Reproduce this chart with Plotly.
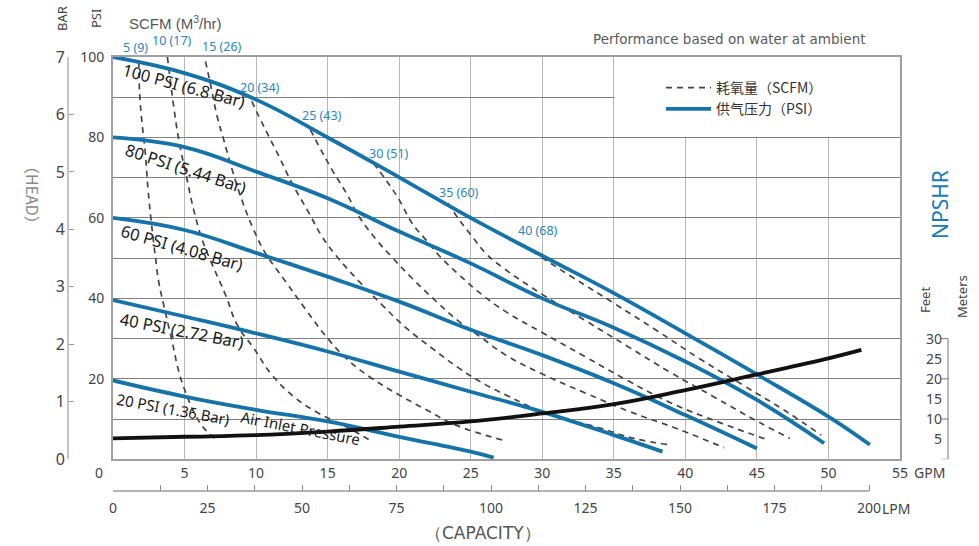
import plotly.graph_objects as go

# ---------------- data ----------------
# Air consumption curves (SCFM / m3/hr): capacity in GPM, discharge head in PSI
scfm_values = [5, 10, 15, 20, 25, 30, 35, 40]
m3hr_values = [9, 17, 26, 34, 43, 51, 60, 68]

scfm5_gpm = [1.8, 1.86, 2.03, 2.26, 2.45, 2.66, 2.96, 3.19, 3.54, 4.13, 4.6, 5.06, 5.76, 6.46, 7.28]
scfm5_psi = [99, 91, 83.6, 76.1, 67, 59.5, 50.4, 44.2, 38.4, 29.3, 21.8, 16.8, 11, 7.3, 4.8]

scfm10_gpm = [3.8, 4.0, 4.24, 4.6, 5.18, 5.64, 6.23, 6.8, 7.86, 8.68, 9.84, 11.1, 12.76, 14.4, 16.5, 18.1]
scfm10_psi = [100, 94.4, 87.7, 79.4, 69.5, 62, 54.6, 49.5, 40.9, 33.4, 27.6, 21, 15.2, 11.4, 7.7, 4.4]

scfm15_gpm = [6.46, 6.8, 7.28, 7.74, 8.33, 9.0, 9.84, 10.66, 12.06, 13.5, 14.9, 16.3, 18.1, 20, 21.9, 23.95, 27.2]
scfm15_psi = [98.9, 93.5, 85.2, 79.4, 72, 64.5, 57, 51.2, 44.2, 37.1, 30.5, 25.1, 20.1, 16, 12.3, 8.5, 4.8]

scfm20_gpm = [9.7, 10.2, 10.9, 11.6, 12.5, 13.7, 14.6, 15.6, 17.2, 18.8, 20.5, 22.3, 24.2, 26.05, 27.45, 30.1, 34.1, 36.4, 38.9]
scfm20_psi = [89, 85.2, 80.2, 75.3, 68.7, 61.2, 55.4, 50.6, 44.2, 38.4, 32.6, 27.6, 22.6, 18.5, 16, 11.7, 7.7, 5.2, 3.6]

scfm25_gpm = [13.8, 14.4, 15.3, 16.3, 17.2, 18.4, 19.4, 20.9, 22.6, 24.2, 25.8, 27.45, 30, 33, 36, 39.5, 42.7]
scfm25_psi = [81.9, 77.8, 72, 66.2, 60.3, 54.6, 50.6, 45, 39.2, 34.2, 30.1, 25.9, 21.2, 16.5, 12, 7.5, 2.9]

scfm30_gpm = [18.2, 19.06, 20, 20.9, 21.85, 22.8, 24.2, 25.8, 27.45, 30, 33, 36, 39, 42.5, 45.8]
scfm30_psi = [73.6, 69.5, 64.5, 58.7, 54.6, 50.6, 45.8, 40.9, 36.7, 31.5, 25.5, 19.5, 14, 9, 4.8]

scfm35_gpm = [23.4, 24.2, 25.1, 26.05, 27.3, 30, 33, 36, 39, 42, 45, 47.3]
scfm35_psi = [63.7, 59.5, 55.4, 51.2, 47.5, 41, 34.5, 28, 21.5, 15.5, 9.5, 5.2]

scfm40_gpm = [28.7, 29.7, 32, 35, 38, 41, 44, 47, 49.5]
scfm40_psi = [53.3, 50.8, 45.5, 38.8, 32, 25, 18.5, 12, 6]

# Air inlet pressure curves: capacity in GPM, discharge head in PSI
inlet_psi = [100, 80, 60, 40, 20]
inlet_bar = ["6.8", "5.44", "4.08", "2.72", "1.36"]

p100_gpm = [0, 5, 10, 15, 20, 25, 30, 35, 40, 45, 50, 52.9]
p100_psi = [100, 96, 89.4, 80, 70.1, 60, 50.6, 41.3, 31.3, 21.1, 10.6, 3.6]

p80_gpm = [0, 5, 10, 15, 20, 25, 30, 35, 40, 45, 49.7]
p80_psi = [80, 77.6, 71.5, 64.9, 56.6, 48.7, 40, 32.7, 24.3, 14.75, 4.0]

p60_gpm = [0, 5, 10, 15, 20, 25, 30, 35, 40, 45]
p60_psi = [60, 57, 51.3, 45.4, 39.2, 32.2, 25.9, 18.9, 11, 2.7]

p40_gpm = [0, 5, 10, 15, 20, 25, 30, 35, 38.4]
p40_psi = [39.6, 35.5, 31.3, 26.8, 21.8, 16.8, 11.8, 6.0, 1.9]

p20_gpm = [0, 5, 10, 15, 20, 25, 26.6]
p20_psi = [19.6, 15.6, 12.3, 9.4, 5.6, 1.9, 0.4]

# NPSHR curve: capacity in GPM, required head in feet
npshr_gpm = [0, 5, 10, 15, 20, 25, 30, 35, 40, 45, 50, 52.3]
npshr_ft = [5.2, 5.6, 6.0, 6.9, 8.1, 9.4, 11.4, 13.7, 17.2, 21.1, 25.1, 27.2]

# Axis ticks
gpm_ticks = [0, 5, 10, 15, 20, 25, 30, 35, 40, 45, 50, 55]
psi_ticks = [0, 10, 20, 30, 40, 50, 60, 70, 80, 90, 100]
psi_labels = [20, 40, 60, 80, 100]
bar_ticks = [0, 1, 2, 3, 4, 5, 6, 7]
lpm_ticks = [0, 12.5, 25, 37.5, 50, 62.5, 75, 87.5, 100, 112.5, 125, 137.5, 150, 162.5, 175, 187.5, 200]
feet_ticks = [5, 10, 15, 20, 25, 30]
feet_marks = [0, 10, 20, 30]
meter_labels = ["1.5", "3", "4.5", "6", "7.6", "9.1"]

# ---------------- styling ----------------
BLUE = "#1673aa"
LABEL_BLUE = "#2a86c0"
DASH_GREY = "#454545"
TXT = "#444444"
FONT = "Noto Sans"
CJK = "Noto Sans CJK SC"

W, H = 979, 546
M_L, M_R, M_T, M_B = 40, 20, 57, 55
PW = W - M_L - M_R
PH = H - M_T - M_B


def px_x(X):
    return (X - M_L) / PW


def px_y(Y):
    return (H - M_B - Y) / PH


x_dom = [px_x(113), px_x(900)]
y_dom = [px_y(459.3), 1.0]
GPM_MAX = 55
PSI_MAX = 100
BAR_MAX = 7
FT_MAX = 100          # feet scale shares the head grid
LPM_PER_GPM = 3.78541
M_PER_FT = 0.3048
lpm_end = 200
SMOOTH = 1.2

fig = go.Figure()

scfm_series = [
    (scfm5_gpm, scfm5_psi), (scfm10_gpm, scfm10_psi), (scfm15_gpm, scfm15_psi),
    (scfm20_gpm, scfm20_psi), (scfm25_gpm, scfm25_psi), (scfm30_gpm, scfm30_psi),
    (scfm35_gpm, scfm35_psi), (scfm40_gpm, scfm40_psi),
]
for i, (g, p) in enumerate(scfm_series):
    fig.add_trace(go.Scatter(
        x=g, y=p, mode="lines", name="耗氧量（SCFM）", legendrank=1,
        showlegend=(i == 0), hoverinfo="skip",
        line=dict(color=DASH_GREY, width=1.7, dash="6px,5px", shape="spline", smoothing=SMOOTH),
    ))

psi_series = [(p100_gpm, p100_psi), (p80_gpm, p80_psi), (p60_gpm, p60_psi),
              (p40_gpm, p40_psi), (p20_gpm, p20_psi)]
for i, (g, p) in enumerate(psi_series):
    fig.add_trace(go.Scatter(
        x=g, y=p, mode="lines", name="供气压力（PSI）", legendrank=2,
        showlegend=(i == 0), hoverinfo="skip",
        line=dict(color=BLUE, width=3.8, shape="spline", smoothing=SMOOTH),
    ))

fig.add_trace(go.Scatter(
    x=npshr_gpm, y=npshr_ft, xaxis="x", yaxis="y3", mode="lines",
    showlegend=False, hoverinfo="skip",
    line=dict(color="#111111", width=3.8, shape="spline", smoothing=SMOOTH),
))

tick_font = dict(family=FONT, size=14, color=TXT)

fig.update_layout(
    width=W, height=H,
    margin=dict(l=M_L, r=M_R, t=M_T, b=M_B),
    paper_bgcolor="white", plot_bgcolor="white",
    font=dict(family=FONT, color=TXT),
    xaxis=dict(
        domain=x_dom, range=[0, GPM_MAX], anchor="y",
        tickmode="array", tickvals=gpm_ticks,
        ticktext=["" if v == 0 else str(v) for v in gpm_ticks],
        ticks="", tickfont=tick_font,
        showgrid=True, gridcolor="#b8b8b8", gridwidth=1.3,
        showline=True, linecolor="#a0a0a0", linewidth=2, mirror=True,
        zeroline=False, fixedrange=True,
    ),
    yaxis=dict(
        domain=y_dom, range=[0, PSI_MAX], anchor="x",
        tickmode="array", tickvals=psi_ticks,
        ticktext=[str(v) if v in psi_labels else "" for v in psi_ticks],
        ticks="", tickfont=tick_font, ticklabelstandoff=4,
        showgrid=True, gridcolor="#808080", gridwidth=1,
        showline=True, linecolor="#a0a0a0", linewidth=2, mirror=True,
        zeroline=False, fixedrange=True,
    ),
    yaxis2=dict(
        overlaying="y", anchor="free", position=px_x(68), side="left",
        range=[0, BAR_MAX], tickmode="array", tickvals=bar_ticks,
        ticks="inside", ticklen=5, tickcolor="#999999",
        tickfont=dict(family=FONT, size=16, color=TXT), ticklabelstandoff=3,
        showline=False, showgrid=False, zeroline=False, fixedrange=True,
    ),
    xaxis2=dict(
        overlaying="x", anchor="free", position=0, side="bottom",
        range=[0, GPM_MAX * LPM_PER_GPM],
        tickmode="array", tickvals=lpm_ticks,
        ticktext=[("%g" % v) if v % 25 == 0 else "" for v in lpm_ticks],
        ticks="inside", ticklen=6, tickcolor="#8a8a8a",
        tickfont=tick_font, ticklabelstandoff=7,
        showline=False, showgrid=False, zeroline=False, fixedrange=True,
    ),
    yaxis3=dict(
        overlaying="y", anchor="free", position=px_x(948), side="left",
        range=[0, FT_MAX], tickmode="array", tickvals=feet_ticks, ticks="",
        tickfont=tick_font, ticklabelstandoff=6,
        showline=False, showgrid=False, zeroline=False, fixedrange=True,
    ),
    yaxis4=dict(
        overlaying="y", anchor="free", position=px_x(948), side="right",
        range=[0, FT_MAX * M_PER_FT], tickmode="array",
        tickvals=[float(v) for v in meter_labels], ticktext=meter_labels,
        ticks="", tickfont=tick_font, ticklabelstandoff=4,
        showline=False, showgrid=False, zeroline=False, fixedrange=True,
    ),
    legend=dict(
        x=px_x(661), y=px_y(72), xanchor="left", yanchor="top",
        bgcolor="rgba(0,0,0,0)", borderwidth=0, tracegroupgap=0,
        itemwidth=45,
        font=dict(family=CJK, size=14, color="#333333"),
    ),
)

shapes = [
    # white panel holding the legend, masking the grid behind it
    dict(type="rect", xref="x", yref="y", x0=35.06, x1=GPM_MAX, y0=80.15, y1=PSI_MAX,
         fillcolor="white", line=dict(width=0), layer="between"),
    # LPM scale baseline
    dict(type="line", xref="x2", yref="paper", x0=0, x1=lpm_end, y0=0, y1=0,
         line=dict(color="#9a9a9a", width=1.5)),
    # BAR scale line
    dict(type="line", xref="paper", yref="y2", x0=px_x(68), x1=px_x(68), y0=0, y1=BAR_MAX,
         line=dict(color="#b0b0b0", width=1.5)),
    # feet / meters bracket
    dict(type="line", xref="paper", yref="y3", x0=px_x(948), x1=px_x(948),
         y0=feet_marks[0], y1=feet_marks[-1], line=dict(color="#777777", width=1)),
]
for v in feet_marks:
    shapes.append(dict(type="line", xref="paper", yref="y3", x0=px_x(941), x1=px_x(948),
                       y0=v, y1=v, line=dict(color="#777777", width=1)))
fig.update_layout(shapes=shapes)

ann = []


def note(**kw):
    kw.setdefault("showarrow", False)
    kw.setdefault("xanchor", "center")
    kw.setdefault("yanchor", "middle")
    ann.append(kw)


# air consumption labels, placed just above where each curve begins
scfm_label_shift = [(-3, 14), (5, 17), (17, 15), (8, 14), (12, 14), (16, 10), (11, 11), (14, 14)]
for (g, p), s, m, (dx, dy) in zip(scfm_series, scfm_values, m3hr_values, scfm_label_shift):
    note(x=g[0], y=p[0], xref="x", yref="y", text=f"{s} ({m})", xshift=dx, yshift=dy,
         font=dict(family=FONT, size=12.5, color=LABEL_BLUE))

# inlet pressure labels along each curve: (gpm, psi, angle, font size)
psi_label_pos = [(4.99, 93.0, 15, 16.5), (5.13, 72.3, 18, 16.5), (4.85, 52.6, 16, 16.5),
                 (4.85, 32.0, 11, 16.5), (4.2, 12.6, 10.5, 15)]
for p, b, (lx, ly, ang, fs) in zip(inlet_psi, inlet_bar, psi_label_pos):
    note(x=lx, y=ly, xref="x", yref="y", text=f"{p} PSI ({b} Bar)", textangle=ang,
         font=dict(family=FONT, size=fs, color="#1a1a1a"))
note(x=13.1, y=7.7, xref="x", yref="y", text="Air Inlet Pressure", textangle=11,
     font=dict(family=FONT, size=15, color="#1a1a1a"))

# axis captions
note(x=px_x(62), y=px_y(19), xref="paper", yref="paper", text="BAR", textangle=-90,
     font=dict(family=FONT, size=13, color=TXT))
note(x=px_x(96), y=px_y(19), xref="paper", yref="paper", text="PSI", textangle=-90,
     font=dict(family=FONT, size=13, color=TXT))
note(x=px_x(175), y=px_y(22), xref="paper", yref="paper", text="SCFM (M<sup>3</sup>/hr)",
     font=dict(family="Liberation Sans", size=15, color="#555555"))
note(x=px_x(868), y=px_y(39), xref="paper", yref="paper", xanchor="right",
     text="Performance based on water at ambient",
     font=dict(family="DejaVu Sans", size=13.5, color="#5a5a5a"))
note(x=px_x(33), y=px_y(195), xref="paper", yref="paper", text="（HEAD）", textangle=90,
     font=dict(family=CJK, size=16, color="#8a8a8a"))
note(x=0, y=px_y(472), xref="x", yref="paper", text="0", xshift=-14, font=tick_font)
note(x=GPM_MAX, y=px_y(472), xref="x", yref="paper", text="GPM", xanchor="left", xshift=12,
     font=tick_font)
note(x=lpm_end, y=px_y(508), xref="x2", yref="paper", text="LPM", xanchor="left", xshift=11,
     font=tick_font)
note(x=px_x(483), y=px_y(533), xref="paper", yref="paper", text="（CAPACITY）",
     font=dict(family="DejaVu Sans", size=17, color="#555555"))
note(x=px_x(940), y=px_y(205), xref="paper", yref="paper", text="NPSHR", textangle=-90,
     font=dict(family=FONT, size=21, color="#1a7ab5"))
note(x=px_x(925), y=px_y(300), xref="paper", yref="paper", text="Feet", textangle=-90,
     font=dict(family=FONT, size=13, color=TXT))
note(x=px_x(962), y=px_y(296), xref="paper", yref="paper", text="Meters", textangle=-90,
     font=dict(family=FONT, size=13, color=TXT))
fig.update_layout(annotations=ann)

fig.write_html("out.html")
